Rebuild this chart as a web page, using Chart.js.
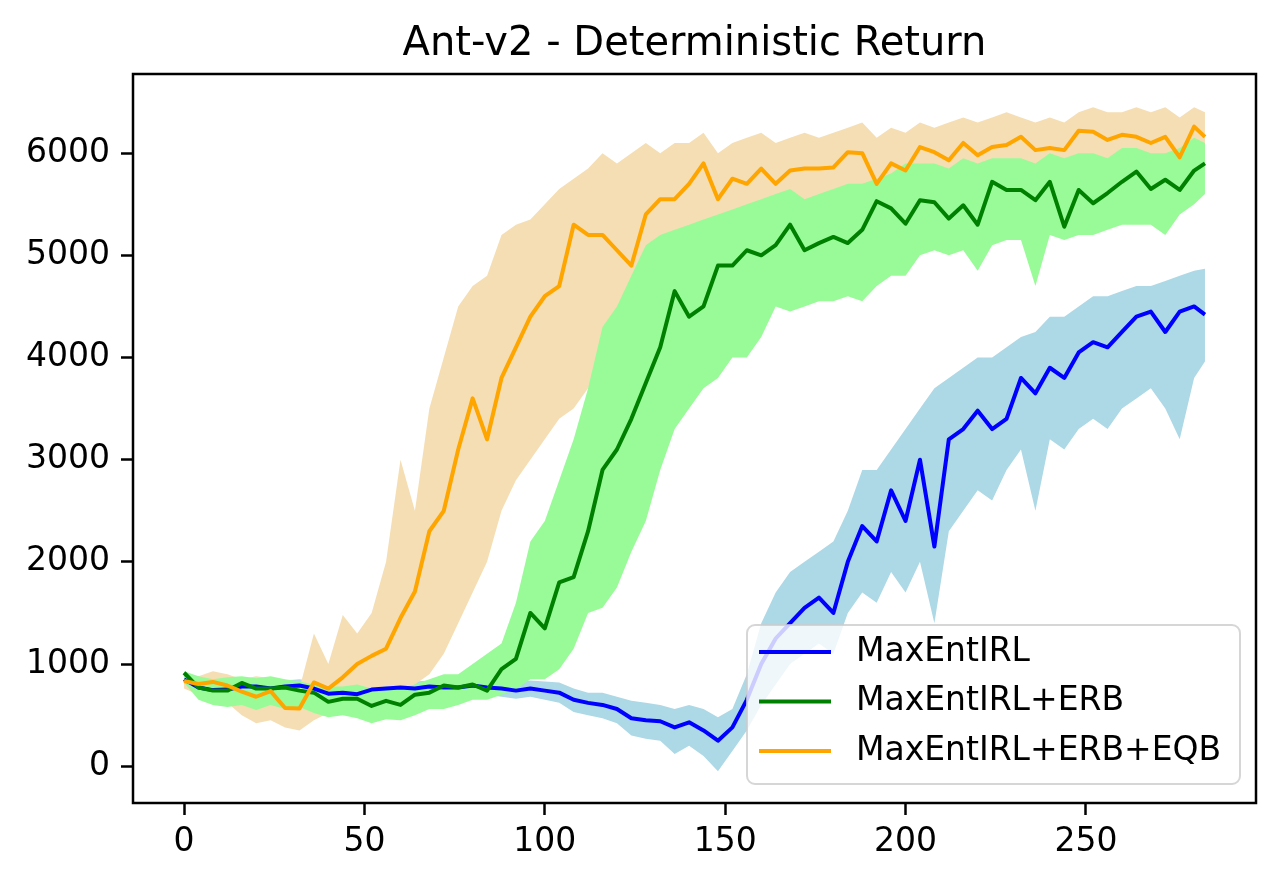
<!DOCTYPE html>
<html>
<head>
<meta charset="utf-8">
<title>Ant-v2 - Deterministic Return</title>
<script src="https://cdn.jsdelivr.net/npm/chart.js@4.4.1/dist/chart.umd.min.js"></script>
<style>
  html, body { margin: 0; padding: 0; background: #fff; }
  canvas { display: block; }
</style>
</head>
<body>
<canvas id="chart" width="1280" height="885"></canvas>
<script>
// training iterations (every 4th step)
const steps = [0, 4, 8, 12, 16, 20, 24, 28, 32, 36, 40, 44,
  48, 52, 56, 60, 64, 68, 72, 76, 80, 84, 88, 92,
  96, 100, 104, 108, 112, 116, 120, 124, 128, 132, 136, 140,
  144, 148, 152, 156, 160, 164, 168, 172, 176, 180, 184, 188,
  192, 196, 200, 204, 208, 212, 216, 220, 224, 228, 232, 236,
  240, 244, 248, 252, 256, 260, 264, 268, 272, 276, 280, 283];

// MaxEntIRL
const maxentMean = [850, 770, 745, 750, 780, 780, 760, 780, 790, 760, 710, 720,
  705, 750, 760, 770, 760, 780, 770, 770, 790, 770, 760, 740,
  760, 740, 720, 650, 620, 600, 560, 470, 450, 440, 380, 430,
  350, 250, 380, 650, 1000, 1250, 1400, 1550, 1650, 1500, 2000, 2350,
  2200, 2700, 2400, 3000, 2150, 3200, 3300, 3480, 3300, 3400, 3800, 3650,
  3900, 3800, 4050, 4150, 4100, 4250, 4400, 4450, 4250, 4450, 4500, 4420];
const maxentUpper = [900, 880, 850, 830, 850, 850, 830, 840, 850, 830, 800, 800,
  790, 820, 830, 840, 830, 840, 840, 840, 850, 850, 840, 820,
  840, 830, 820, 760, 720, 720, 680, 640, 620, 600, 560, 600,
  560, 480, 560, 900, 1400, 1700, 1900, 2000, 2100, 2200, 2500, 2900,
  2900, 3100, 3300, 3500, 3700, 3800, 3900, 4000, 4000, 4100, 4200, 4250,
  4400, 4400, 4500, 4600, 4600, 4650, 4700, 4700, 4750, 4800, 4850, 4870];
const maxentLower = [800, 700, 680, 680, 700, 700, 690, 720, 720, 690, 640, 650,
  620, 680, 690, 700, 690, 720, 700, 700, 710, 700, 680, 660,
  680, 650, 620, 530, 500, 470, 420, 300, 270, 250, 120, 200,
  100, -50, 150, 350, 600, 800, 1000, 1100, 1200, 1100, 1500, 1700,
  1600, 1900, 1700, 2000, 1400, 2300, 2500, 2700, 2600, 2900, 3100, 2500,
  3200, 3100, 3300, 3400, 3300, 3500, 3600, 3700, 3500, 3200, 3800, 3960];

// MaxEntIRL+ERB
const erbMean = [915, 770, 740, 740, 815, 760, 760, 770, 740, 720, 630, 660,
  660, 590, 640, 600, 700, 720, 790, 770, 800, 740, 950, 1050,
  1500, 1350, 1800, 1850, 2300, 2900, 3100, 3400, 3750, 4100, 4650, 4400,
  4500, 4900, 4900, 5050, 5000, 5100, 5300, 5050, 5120, 5180, 5120, 5250,
  5530, 5460, 5310, 5540, 5520, 5360, 5490, 5300, 5720, 5640, 5640, 5540,
  5720, 5280, 5640, 5510, 5610, 5720, 5820, 5650, 5740, 5640, 5830, 5900];
const erbUpper = [930, 880, 850, 870, 880, 860, 880, 850, 830, 800, 780, 780,
  800, 760, 780, 760, 800, 850, 900, 900, 1000, 1100, 1200, 1600,
  2200, 2400, 2800, 3200, 3700, 4300, 4500, 4800, 5100, 5200, 5250, 5300,
  5350, 5400, 5450, 5500, 5550, 5600, 5650, 5550, 5600, 5650, 5700, 5700,
  5750, 5800, 5900, 5900, 5900, 5850, 5950, 5900, 5950, 5950, 5950, 5900,
  6000, 5950, 6000, 6000, 5950, 6050, 6050, 6000, 6000, 6050, 6150, 6100];
const erbLower = [820, 650, 600, 580, 600, 550, 600, 560, 580, 520, 480, 500,
  470, 420, 460, 450, 500, 560, 560, 600, 650, 650, 700, 750,
  850, 850, 950, 1150, 1500, 1550, 1750, 2100, 2400, 2900, 3300, 3500,
  3700, 3800, 4000, 4000, 4200, 4500, 4450, 4500, 4550, 4550, 4600, 4550,
  4700, 4800, 4800, 5000, 5050, 5000, 5050, 4850, 5100, 5150, 5150, 4700,
  5200, 5150, 5200, 5200, 5250, 5300, 5300, 5300, 5200, 5400, 5500, 5600];

// MaxEntIRL+ERB+EQB
const eqbMean = [834, 805, 825, 790, 730, 680, 735, 570, 565, 820, 760, 870,
  1000, 1080, 1150, 1450, 1710, 2300, 2500, 3100, 3600, 3200, 3800, 4100,
  4400, 4600, 4700, 5300, 5200, 5200, 5050, 4900, 5400, 5550, 5550, 5700,
  5900, 5550, 5750, 5700, 5850, 5700, 5830, 5850, 5850, 5860, 6010, 6000,
  5700, 5900, 5830, 6060, 6010, 5930, 6100, 5980, 6060, 6080, 6160, 6030,
  6050, 6030, 6220, 6210, 6130, 6180, 6160, 6100, 6160, 5960, 6260, 6160];
const eqbUpper = [900, 880, 930, 900, 850, 880, 860, 800, 760, 1300, 1000, 1480,
  1300, 1500, 2000, 3000, 2500, 3500, 4000, 4500, 4700, 4800, 5200, 5300,
  5350, 5500, 5650, 5750, 5850, 6000, 5900, 6000, 6100, 6000, 6100, 6100,
  6200, 6000, 6100, 6150, 6200, 6100, 6150, 6200, 6150, 6200, 6250, 6300,
  6150, 6250, 6200, 6300, 6250, 6300, 6350, 6300, 6350, 6400, 6350, 6300,
  6350, 6300, 6400, 6450, 6400, 6400, 6450, 6400, 6450, 6350, 6450, 6400];
const eqbLower = [760, 700, 640, 620, 500, 420, 450, 380, 350, 450, 520, 560,
  600, 650, 650, 700, 800, 900, 1100, 1400, 1700, 2000, 2500, 2800,
  3000, 3200, 3400, 3500, 3700, 4000, 4200, 4400, 4400, 4900, 5100, 5200,
  5300, 5000, 5300, 5200, 5400, 5300, 5450, 5450, 5450, 5500, 5650, 5600,
  5300, 5550, 5500, 5700, 5650, 5600, 5750, 5650, 5750, 5750, 5850, 5700,
  5750, 5750, 5900, 5850, 5800, 5850, 5900, 5750, 5850, 5650, 5900, 5850];

const seriesNames = ['MaxEntIRL', 'MaxEntIRL+ERB', 'MaxEntIRL+ERB+EQB'];
const xTicks = [0, 50, 100, 150, 200, 250];
const yTicks = [0, 1000, 2000, 3000, 4000, 5000, 6000];

const lineColors = ['#0000ff', '#008000', '#ffa500'];
const bandColors = ['#add8e6', '#98fb98', '#f5deb3'];

const pts = vals => vals.map((v, i) => ({ x: steps[i], y: v }));

function meanLine(label, vals, color, order) {
  return {
    label, data: pts(vals), order,
    borderColor: color, borderWidth: 4,
    borderJoinStyle: 'round', pointRadius: 0, tension: 0, fill: false
  };
}
function bandEdge(vals, color, order, isUpper) {
  return {
    data: pts(vals), order,
    borderWidth: 0, borderColor: 'rgba(0,0,0,0)', backgroundColor: color,
    pointRadius: 0, tension: 0, fill: isUpper ? '+1' : false
  };
}

// frame and in-plot legend
const frameAndLegend = {
  id: 'frameAndLegend',
  afterDatasetsDraw(chart) {
    const { ctx, chartArea: a } = chart;
    ctx.save();
    ctx.strokeStyle = '#000';
    ctx.lineWidth = 2.5;
    ctx.strokeRect(a.left, a.top, a.right - a.left, a.bottom - a.top);

    const w = 493, h = 159;
    const x0 = a.right - 16 - w, y0 = a.bottom - 19 - h;
    ctx.beginPath();
    ctx.roundRect(x0, y0, w, h, 8);
    ctx.fillStyle = 'rgba(255,255,255,0.8)';
    ctx.fill();
    ctx.strokeStyle = 'rgba(204,204,204,0.8)';
    ctx.lineWidth = 2;
    ctx.stroke();

    ctx.font = '33px "DejaVu Sans"';
    ctx.textBaseline = 'middle';
    ctx.textAlign = 'left';
    seriesNames.forEach((name, i) => {
      const y = y0 + 27 + i * 49.5;
      ctx.strokeStyle = lineColors[i];
      ctx.lineWidth = 4;
      ctx.beginPath();
      ctx.moveTo(x0 + 12, y);
      ctx.lineTo(x0 + 84, y);
      ctx.stroke();
      ctx.fillStyle = '#000';
      ctx.fillText(name, x0 + 109, y);
    });
    ctx.restore();
  }
};

Chart.defaults.font.family = '"DejaVu Sans"';
Chart.defaults.color = '#000';

new Chart(document.getElementById('chart').getContext('2d'), {
  type: 'line',
  data: {
    datasets: [
      meanLine(seriesNames[0], maxentMean, lineColors[0], 3),
      meanLine(seriesNames[1], erbMean, lineColors[1], 2),
      meanLine(seriesNames[2], eqbMean, lineColors[2], 1),
      bandEdge(erbUpper, bandColors[1], 4, true),
      bandEdge(erbLower, bandColors[1], 4, false),
      bandEdge(eqbUpper, bandColors[2], 5, true),
      bandEdge(eqbLower, bandColors[2], 5, false),
      bandEdge(maxentUpper, bandColors[0], 6, true),
      bandEdge(maxentLower, bandColors[0], 6, false)
    ]
  },
  options: {
    responsive: false,
    devicePixelRatio: 1,
    animation: false,
    events: [],
    layout: { padding: { left: 0, right: 24, top: 0, bottom: 0 } },
    plugins: {
      legend: { display: false },
      tooltip: { enabled: false },
      title: {
        display: true,
        text: 'Ant-v2 - Deterministic Return',
        fullSize: false,
        font: { size: 40, weight: 'normal' },
        color: '#000',
        padding: { top: 21, bottom: 5 }
      }
    },
    scales: {
      x: {
        type: 'linear',
        min: -14.15,
        max: 297.15,
        afterBuildTicks: s => { s.ticks = xTicks.map(v => ({ value: v })); },
        afterFit: s => { s.height = 82; },
        ticks: { font: { size: 33 }, color: '#000', padding: 8, maxRotation: 0, callback: v => String(v) },
        grid: { drawOnChartArea: false, drawTicks: true, tickLength: 12, tickWidth: 2.5, tickColor: '#000' },
        border: { display: false }
      },
      y: {
        min: -360,
        max: 6775,
        afterBuildTicks: s => { s.ticks = yTicks.map(v => ({ value: v })); },
        afterFit: s => { s.width = 133; },
        ticks: { font: { size: 33 }, color: '#000', padding: 11, callback: v => String(v) },
        grid: { drawOnChartArea: false, drawTicks: true, tickLength: 12, tickWidth: 2.5, tickColor: '#000' },
        border: { display: false }
      }
    }
  },
  plugins: [frameAndLegend]
});
</script>
</body>
</html>
